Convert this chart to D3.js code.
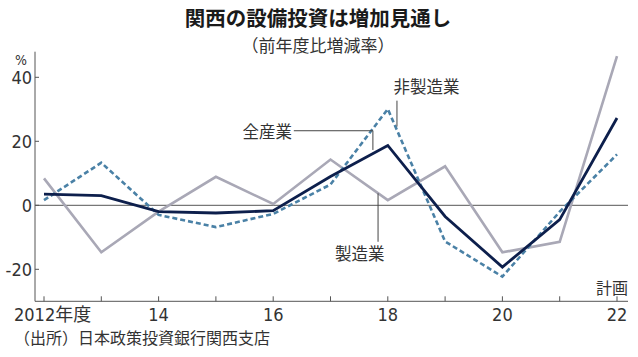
<!DOCTYPE html>
<html><head><meta charset="utf-8">
<script src="https://cdn.jsdelivr.net/npm/d3@7"></script>
<style>
body{margin:0;background:#fff;}
svg text{font-family:"Noto Sans CJK JP","Noto Sans",sans-serif;fill:#222;}
.num{font-family:"Liberation Sans Narrow","DejaVu Sans Condensed","Noto Sans CJK JP",sans-serif;}
</style></head>
<body><svg id="c" width="638" height="357"></svg>
<script>
const years = [2012,2013,2014,2015,2016,2017,2018,2019,2020,2021,2022];
const allIndustry   = [3.5, 3.0, -2.0, -2.4, -1.7, 9.0, 18.7, -3.5, -19.3, -4.5, 27.3];
const manufacturing = [8.4, -14.7, -2.0, 8.9, 0.4, 14.3, 1.6, 12.2, -14.7, -11.4, 46.6];
const nonManufacturing = [1.6, 13.3, -3.0, -6.8, -2.7, 6.5, 30.1, -11.3, -22.3, -2.0, 15.9];
const yTicks = [-20, 0, 20, 40];
const xTickLabels = ["2012年度","14","16","18","20","22"];
const xLabelYears = [2012,2014,2016,2018,2020,2022];

const svg = d3.select("#c");
const x = d3.scaleLinear().domain([2012,2022]).range([44,617]);
const y = d3.scaleLinear().domain([-30,48]).range([301.3,51.7]);

// title
svg.append("text").attr("x",318).attr("y",17).attr("text-anchor","middle")
  .attr("dominant-baseline","central").style("font-size","20.5px").style("font-weight","700")
  .style("fill","#1a1a1a").text("関西の設備投資は増加見通し");
svg.append("text").attr("x",318).attr("y",44.5).attr("text-anchor","middle")
  .attr("dominant-baseline","central").style("font-size","17px").style("fill","#333")
  .text("（前年度比増減率）");

// y axis line
svg.append("line").attr("x1",35).attr("x2",35).attr("y1",y(48)).attr("y2",y(-30))
  .attr("stroke","#555").attr("stroke-width",1);
// y ticks
const yt = svg.append("g");
yTicks.forEach(v=>{
  yt.append("line").attr("x1",35).attr("x2",39).attr("y1",y(v)).attr("y2",y(v))
    .attr("stroke","#555").attr("stroke-width",1);
  yt.append("text").attr("class","num").attr("x",32).attr("y",y(v)).attr("text-anchor","end")
    .attr("dominant-baseline","central").style("font-size","18px").style("fill","#333").text(v);
});
svg.append("text").attr("class","num").attr("x",15).attr("y",y(45.5)).attr("dominant-baseline","central")
  .style("font-size","14px").style("fill","#333").text("%");

// zero line
svg.append("line").attr("x1",35).attr("x2",628).attr("y1",y(0)).attr("y2",y(0))
  .attr("stroke","#555").attr("stroke-width",1);
// x axis
svg.append("line").attr("x1",35).attr("x2",628).attr("y1",y(-30)).attr("y2",y(-30))
  .attr("stroke","#555").attr("stroke-width",1);
years.forEach(yr=>{
  svg.append("line").attr("x1",x(yr)).attr("x2",x(yr)).attr("y1",y(-30)).attr("y2",y(-30)-5)
    .attr("stroke","#555").attr("stroke-width",1);
});
xLabelYears.forEach((yr,i)=>{
  const t = svg.append("text").attr("class","num").attr("y",314).attr("dominant-baseline","central")
    .style("font-size","18px").style("fill","#333");
  if(i===0){ t.attr("x",14).attr("text-anchor","start").text(xTickLabels[i]); }
  else { t.attr("x",x(yr)).attr("text-anchor","middle").text(xTickLabels[i]); }
});
svg.append("text").attr("x",628).attr("y",287).attr("text-anchor","end").attr("dominant-baseline","central")
  .style("font-size","16px").style("fill","#333").text("計画");

// lines
const line = d3.line().x((d,i)=>x(years[i])).y(d=>y(d));
svg.append("path").datum(manufacturing).attr("d",line).attr("fill","none")
  .attr("stroke","#a9a8b6").attr("stroke-width",2.6);
svg.append("path").datum(nonManufacturing).attr("d",line).attr("fill","none")
  .attr("stroke","#4a81a6").attr("stroke-width",2.6).attr("stroke-dasharray","5,3");
svg.append("path").datum(allIndustry).attr("d",line).attr("fill","none")
  .attr("stroke","#0d1f4c").attr("stroke-width",2.8);

// annotations
const ann = svg.append("g");
// 全産業
ann.append("polyline").attr("points",[[x(2016.36),y(23.3)],[x(2017.74),y(23.3)],[x(2017.74),y(17.3)]].join(" "))
  .attr("fill","none").attr("stroke","#444").attr("stroke-width",1);
ann.append("text").attr("x",x(2016.33)).attr("y",y(23.3)).attr("text-anchor","end").attr("dominant-baseline","central")
  .style("font-size","16.5px").style("fill","#333").text("全産業");
// 非製造業
ann.append("line").attr("x1",x(2018.16)).attr("x2",x(2018.16)).attr("y1",y(32.7)).attr("y2",y(24.6))
  .attr("stroke","#444").attr("stroke-width",1);
ann.append("text").attr("x",x(2018.1)).attr("y",y(37.3)).attr("text-anchor","start").attr("dominant-baseline","central")
  .style("font-size","16.5px").style("fill","#333").text("非製造業");
// 製造業
ann.append("line").attr("x1",x(2017.83)).attr("x2",x(2017.83)).attr("y1",y(3.75)).attr("y2",y(-11.4))
  .attr("stroke","#444").attr("stroke-width",1);
ann.append("text").attr("x",x(2017.51)).attr("y",y(-14.9)).attr("text-anchor","middle").attr("dominant-baseline","central")
  .style("font-size","16.5px").style("fill","#333").text("製造業");

// source
svg.append("text").attr("x",14).attr("y",337).attr("dominant-baseline","central")
  .style("font-size","16px").style("fill","#333").text("（出所）日本政策投資銀行関西支店");
</script></body></html>
